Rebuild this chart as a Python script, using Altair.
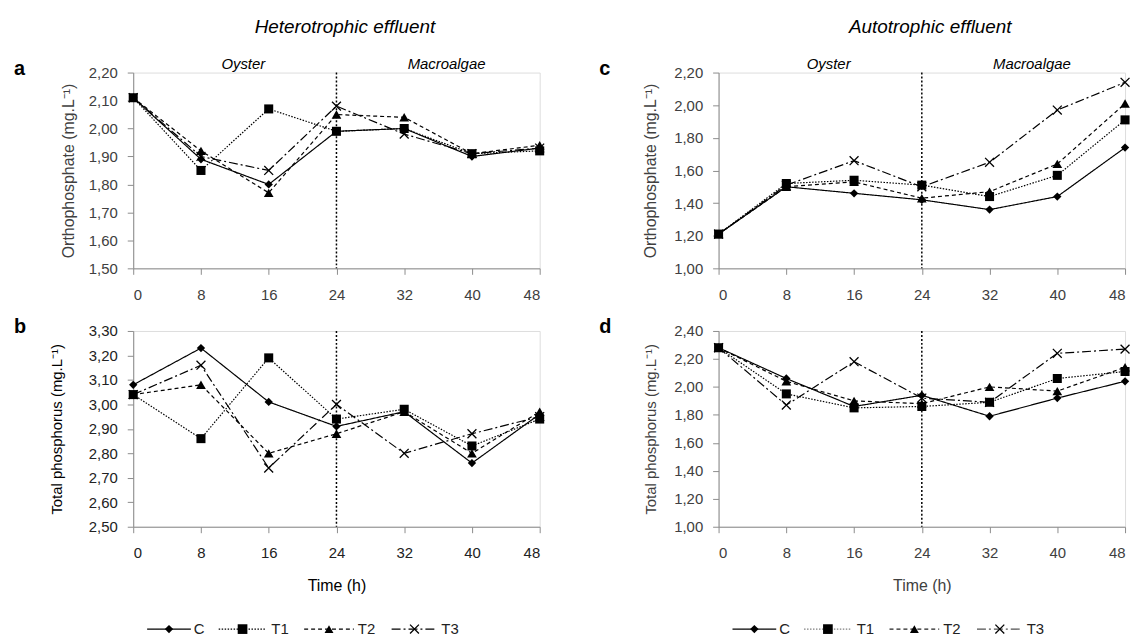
import altair as alt
import pandas as pd

times = [0, 8, 16, 24, 32, 40, 48]
series = ["C", "T1", "T2", "T3"]

# a: Orthophosphate, heterotrophic effluent
a_C = [2.11, 1.89, 1.80, 1.99, 2.00, 1.90, 1.93]
a_T1 = [2.11, 1.85, 2.07, 1.99, 2.00, 1.91, 1.92]
a_T2 = [2.11, 1.92, 1.77, 2.05, 2.04, 1.91, 1.94]
a_T3 = [2.11, 1.90, 1.85, 2.08, 1.98, 1.91, 1.93]

# b: Total phosphorus, heterotrophic effluent
b_C = [3.08, 3.23, 3.01, 2.91, 2.97, 2.76, 2.96]
b_T1 = [3.04, 2.86, 3.19, 2.94, 2.98, 2.83, 2.94]
b_T2 = [3.04, 3.08, 2.80, 2.88, 2.97, 2.80, 2.97]
b_T3 = [3.04, 3.16, 2.74, 3.00, 2.80, 2.88, 2.95]

# c: Orthophosphate, autotrophic effluent
c_C = [1.21, 1.50, 1.46, 1.42, 1.36, 1.44, 1.74]
c_T1 = [1.21, 1.52, 1.54, 1.51, 1.44, 1.57, 1.91]
c_T2 = [1.21, 1.50, 1.53, 1.43, 1.47, 1.64, 2.01]
c_T3 = [1.21, 1.51, 1.66, 1.50, 1.65, 1.97, 2.14]

# d: Total phosphorus, autotrophic effluent
d_C = [2.28, 2.06, 1.86, 1.94, 1.79, 1.92, 2.04]
d_T1 = [2.28, 1.95, 1.85, 1.86, 1.89, 2.06, 2.11]
d_T2 = [2.28, 2.04, 1.90, 1.88, 2.00, 1.97, 2.14]
d_T3 = [2.28, 1.87, 2.18, 1.92, 1.89, 2.24, 2.27]

phase_labels = ["Oyster", "Macroalgae"]
phase_pos = [13, 37]
divider = [24]

W, H = 409, 197
FONT = "Liberation Sans"
AXIS_GRAY = "#8c8c8c"
CROSS = "M-1,-1L1,1M-1,1L1,-1"

dashes = [[1, 0], [1.5, 1.5], [4, 3], [9, 3, 2, 3]]
filled_shapes = ["diamond", "square", "triangle-up"]
filled_sizes = [70, 95, 80]

legend_items = [
    # series, line x0, line x1, marker x, text x
    ("C", 14, 58, 36, 61),
    ("T1", 86, 134, 110, 139),
    ("T2", 172, 222, 197, 226),
    ("T3", 260, 306, 283, 310),
]


def panel(vals, ydom, ystep, ytitle, letter, colors, label_color, title_x,
          xtitle=None, top_title=None, show_legend=False, title_size=16,
          title_color="#404040", anchor=False):
    df = pd.DataFrame({
        "time": times * 4,
        "value": vals[0] + vals[1] + vals[2] + vals[3],
        "series": [s for s in series for _ in times],
    })
    nticks = int(round((ydom[1] - ydom[0]) / ystep)) + 1
    yvals = [round(ydom[0] + i * ystep, 2) for i in range(nticks)]

    common = dict(
        values=times, grid=False, domainColor=AXIS_GRAY, tickColor=AXIS_GRAY,
        tickSize=6, labelFontSize=15, labelColor=label_color, labelFont=FONT,
        labelPadding=13,
    )
    if xtitle:
        xaxis = alt.Axis(
            title=xtitle, titleFont=FONT, titleFontSize=16, titleFontWeight="normal",
            titleColor=title_color, titleX=W / 2, titleY=59, titleBaseline="middle",
            titleAlign="center", **common,
        )
    else:
        xaxis = alt.Axis(title=None, **common)
    x = alt.X("time:Q", scale=alt.Scale(domain=[0, 48], nice=False, zero=False), axis=xaxis)
    y = alt.Y(
        "value:Q",
        scale=alt.Scale(domain=ydom, nice=False, zero=False),
        axis=alt.Axis(
            values=yvals, grid=False, domainColor=AXIS_GRAY, tickColor=AXIS_GRAY,
            tickSize=6, labelFontSize=15, labelColor=label_color, labelFont=FONT,
            labelPadding=10,
            labelExpr="replace(format(datum.value, '.2f'), '.', ',')",
            title=ytitle, titleFont=FONT, titleFontSize=title_size,
            titleFontWeight="normal", titleColor=title_color,
            titleAngle=270, titleX=title_x, titleY=H / 2, titleAlign="center",
            titleBaseline="middle",
        ),
    )
    base = alt.Chart(df)
    lines = base.mark_line(strokeWidth=1.2).encode(
        x=x, y=y,
        strokeDash=alt.StrokeDash("series:N", scale=alt.Scale(domain=series, range=dashes), legend=None),
        color=alt.Color("series:N", scale=alt.Scale(domain=series, range=colors), legend=None),
    )
    pts = base.transform_filter(alt.datum.series != "T3").mark_point(
        filled=True, opacity=1, color="black"
    ).encode(
        x=x, y=y,
        shape=alt.Shape("series:N", scale=alt.Scale(domain=series[:3], range=filled_shapes), legend=None),
        size=alt.Size("series:N", scale=alt.Scale(domain=series[:3], range=filled_sizes), legend=None),
    )
    crosses = base.transform_filter(alt.datum.series == "T3").mark_point(
        shape=CROSS, filled=False, size=80, strokeWidth=1.3, color="black", opacity=1
    ).encode(x=x, y=y)

    div = alt.Chart(pd.DataFrame({"time": divider})).mark_rule(
        color="black", strokeDash=[2, 2], strokeWidth=1.5
    ).encode(x=x)

    one = pd.DataFrame({"k": [0]})
    letter_mark = alt.Chart(one).mark_text(
        align="left", baseline="alphabetic", fontSize=20, fontWeight="bold",
        font=FONT, color="black"
    ).encode(x=alt.value(-120), y=alt.value(2), text=alt.value(letter))

    layers = [div, lines, pts, crosses, letter_mark]

    if anchor:
        # invisible layout anchor: fixes the top-left corner of the page content
        layers.append(alt.Chart(one).mark_rule(strokeWidth=0, opacity=0).encode(
            x=alt.value(-125), x2=alt.value(0), y=alt.value(-62)))

    if top_title:
        ph = pd.DataFrame({"time": phase_pos, "label": phase_labels})
        layers.append(alt.Chart(ph).mark_text(
            fontSize=15, fontStyle="italic", font=FONT, color="black", baseline="middle"
        ).encode(x=x, y=alt.value(-9), text="label:N"))
        tt = pd.DataFrame({"time": [25], "label": [top_title]})
        layers.append(alt.Chart(tt).mark_text(
            fontSize=19, fontStyle="italic", font=FONT, color="black", baseline="alphabetic"
        ).encode(x=x, y=alt.value(-40), text="label:N"))

    if show_legend:
        for i, (s, x0, x1, xm, xt) in enumerate(legend_items):
            layers.append(alt.Chart(one).mark_rule(
                color=colors[i], strokeDash=dashes[i], strokeWidth=1.2
            ).encode(x=alt.value(x0), x2=alt.value(x1), y=alt.value(300)))
            if s == "T3":
                layers.append(alt.Chart(one).mark_point(
                    shape=CROSS, filled=False, size=80, strokeWidth=1.3, color="black", opacity=1
                ).encode(x=alt.value(xm), y=alt.value(300)))
            else:
                layers.append(alt.Chart(one).mark_point(
                    shape=filled_shapes[i], filled=True, size=filled_sizes[i], color="black", opacity=1
                ).encode(x=alt.value(xm), y=alt.value(300)))
            layers.append(alt.Chart(one).mark_text(
                align="left", baseline="middle", fontSize=15, font=FONT, color="#222"
            ).encode(x=alt.value(xt), y=alt.value(300), text=alt.value(s)))

    return alt.layer(*layers).properties(width=W, height=H)


dark = ["black", "black", "black", "black"]
light = ["black", "#7f7f7f", "#222222", "#505050"]

pa = panel([a_C, a_T1, a_T2, a_T3], [1.5, 2.2], 0.1, "Orthophosphate (mg.L⁻¹)", "a",
           dark, "#404040", -65, top_title="Heterotrophic effluent", anchor=True)
pb = panel([b_C, b_T1, b_T2, b_T3], [2.5, 3.3], 0.1, "Total phosphorus (mg.L⁻¹)", "b",
           dark, "#222222", -77, xtitle="Time (h)", show_legend=True,
           title_size=15, title_color="black")
pc = panel([c_C, c_T1, c_T2, c_T3], [1.0, 2.2], 0.2, "Orthophosphate (mg.L⁻¹)", "c",
           light, "#404040", -68, top_title="Autotrophic effluent")
pd_ = panel([d_C, d_T1, d_T2, d_T3], [1.0, 2.4], 0.2, "Total phosphorus (mg.L⁻¹)", "d",
            light, "#404040", -68, xtitle="Time (h)", show_legend=True, title_size=15)

chart = alt.concat(
    pa, pc, pb, pd_, columns=2,
    spacing={"row": 63, "column": 180}, bounds="flush",
    padding={"left": 0, "top": 0, "right": 0, "bottom": 0},
).configure_view(stroke=None).configure(font=FONT)

chart.save("out.html", embed_options={"renderer": "svg", "actions": False})
